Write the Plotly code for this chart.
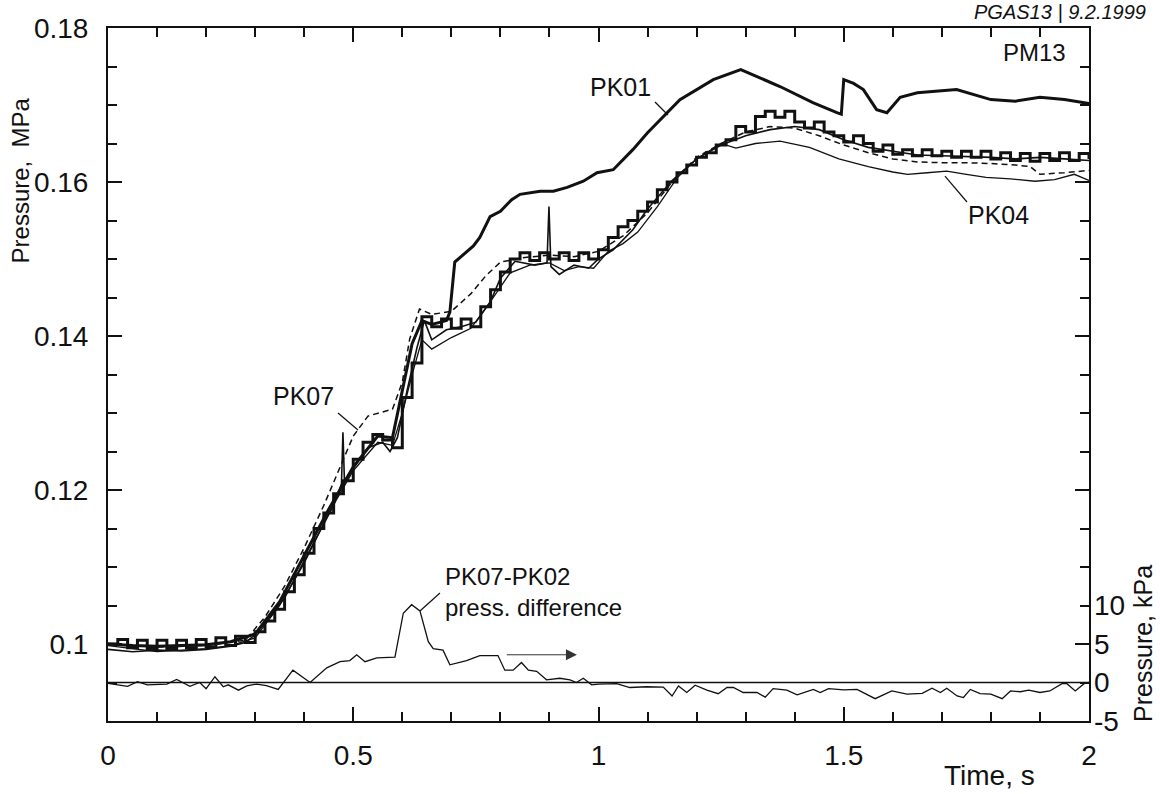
import numpy as np
import plotly.graph_objects as go

# ---------------- data ----------------
# PK01 (thick solid)
t_pk01 = [0.0, 0.05, 0.1, 0.15, 0.2, 0.25, 0.3, 0.35, 0.4, 0.45, 0.5, 0.55, 0.58, 0.6, 0.62, 0.64,
          0.66, 0.69, 0.697, 0.707, 0.724, 0.745, 0.758, 0.779, 0.8, 0.823, 0.84, 0.881, 0.908, 0.936,
          0.969, 0.997, 1.03, 1.05, 1.07, 1.10, 1.166, 1.234, 1.29, 1.37, 1.437, 1.486, 1.495, 1.50,
          1.52, 1.54, 1.567, 1.588, 1.615, 1.65, 1.7, 1.73, 1.8, 1.85, 1.9, 1.95, 2.0]
p_pk01 = [0.1000, 0.0998, 0.0997, 0.0998, 0.0999, 0.1003, 0.1013, 0.1055, 0.1115, 0.1175, 0.1230,
          0.1270, 0.1268, 0.1330, 0.1390, 0.1420, 0.1415, 0.1420, 0.1431, 0.1496, 0.1505, 0.1517,
          0.1528, 0.1555, 0.1562, 0.1577, 0.1584, 0.1588, 0.1588, 0.1593, 0.1601, 0.1612, 0.1616,
          0.1629, 0.1642, 0.1664, 0.1707, 0.1733, 0.1746, 0.1724, 0.1703, 0.1690, 0.1688, 0.1733,
          0.1728, 0.1720, 0.1694, 0.1690, 0.1710, 0.1716, 0.1718, 0.1720, 0.1707, 0.1705, 0.1710,
          0.1707, 0.1702]

# PK02 (heavy, coarsely digitised / stepped), sampled every 0.02 s
t_pk02 = list(np.round(np.arange(0, 2.0001, 0.02), 2))
p_pk02 = [0.1000, 0.1006, 0.0995, 0.1005, 0.0994, 0.1005, 0.0994, 0.1005, 0.0995, 0.1006,
          0.0996, 0.1008, 0.0998, 0.1010, 0.1002, 0.1016, 0.1030, 0.1045, 0.1068, 0.1090,
          0.1118, 0.1150, 0.1170, 0.1195, 0.1212, 0.1240, 0.1262, 0.1272, 0.1265, 0.1255,
          0.1320, 0.1365, 0.1425, 0.1412, 0.1422, 0.1410, 0.1422, 0.1412, 0.1438, 0.1460,
          0.1483, 0.1500, 0.1508, 0.1498, 0.1508, 0.1500, 0.1508, 0.1498, 0.1508, 0.1500,
          0.1512, 0.1528, 0.1542, 0.1550, 0.1562, 0.1574, 0.1590, 0.1600, 0.1612, 0.1622,
          0.1632, 0.1638, 0.1648, 0.1655, 0.1672, 0.1665, 0.1685, 0.1692, 0.1684, 0.1692,
          0.1678, 0.1670, 0.1678, 0.1665, 0.1660, 0.1652, 0.1660, 0.1650, 0.1640, 0.1648,
          0.1636, 0.1642, 0.1634, 0.1642, 0.1634, 0.1640, 0.1632, 0.1640, 0.1632, 0.1640,
          0.1630, 0.1638, 0.1628, 0.1637, 0.1627, 0.1637, 0.1628, 0.1638, 0.1628, 0.1637,
          0.1630]

# PK03 (solid, inside the bundle)
t_pk03 = [0.0, 0.05, 0.1, 0.15, 0.2, 0.25, 0.28, 0.3, 0.33, 0.36, 0.4, 0.43, 0.46, 0.476, 0.479,
          0.482, 0.5, 0.53, 0.56, 0.575, 0.59, 0.61, 0.63, 0.645, 0.66, 0.69, 0.72, 0.75, 0.78, 0.8,
          0.83, 0.87, 0.895, 0.899, 0.903, 0.92, 0.95, 0.98, 1.0, 1.03, 1.07, 1.1, 1.15, 1.2, 1.25,
          1.3, 1.35, 1.4, 1.45, 1.5, 1.55, 1.6, 1.65, 1.7, 1.75, 1.8, 1.85, 1.9, 1.95, 2.0]
p_pk03 = [0.0993, 0.0990, 0.0992, 0.0991, 0.0993, 0.0997, 0.1002, 0.1012, 0.1035, 0.1060, 0.1108,
          0.1145, 0.1180, 0.1208, 0.1275, 0.1212, 0.1228, 0.1255, 0.1262, 0.1250, 0.1268, 0.1330,
          0.1385, 0.1420, 0.1395, 0.1408, 0.1412, 0.1418, 0.1445, 0.1475, 0.1497, 0.1492, 0.1495,
          0.1568, 0.1490, 0.1480, 0.1492, 0.1488, 0.1500, 0.1512, 0.1538, 0.1565, 0.1602, 0.1630,
          0.1648, 0.1660, 0.1668, 0.1672, 0.1668, 0.1655, 0.1645, 0.1640, 0.1635, 0.1634, 0.1633,
          0.1632, 0.1630, 0.1632, 0.1630, 0.1628]

# PK04 (thin solid, lowest at the end)
t_pk04 = [0.0, 0.05, 0.1, 0.15, 0.2, 0.25, 0.3, 0.35, 0.4, 0.45, 0.5, 0.55, 0.58, 0.6, 0.62, 0.64,
          0.66, 0.7, 0.74, 0.78, 0.82, 0.86, 0.9, 0.93, 0.96, 0.99, 1.02, 1.05, 1.08, 1.12, 1.16,
          1.2, 1.25, 1.28, 1.32, 1.37, 1.43, 1.49, 1.55, 1.6, 1.63, 1.67, 1.71, 1.75, 1.79, 1.84,
          1.89, 1.93, 1.97, 2.0]
p_pk04 = [0.0998, 0.0994, 0.0990, 0.0992, 0.0994, 0.0998, 0.1008, 0.1050, 0.1105, 0.1170, 0.1225,
          0.1262, 0.1258, 0.1300, 0.1350, 0.1395, 0.1383, 0.1398, 0.1410, 0.1445, 0.1482, 0.1492,
          0.1495, 0.1485, 0.1490, 0.1488, 0.1510, 0.1520, 0.1535, 0.1568, 0.1605, 0.1630, 0.1650,
          0.1644, 0.1650, 0.1653, 0.1645, 0.1630, 0.1620, 0.1613, 0.1610, 0.1612, 0.1614, 0.1610,
          0.1606, 0.1604, 0.1601, 0.1603, 0.1610, 0.1602]

# PK07 (dashed)
t_pk07 = [0.0, 0.1, 0.2, 0.28, 0.32, 0.36, 0.4, 0.44, 0.47, 0.5, 0.53, 0.56, 0.58, 0.6, 0.615,
          0.635, 0.66, 0.7, 0.74, 0.77, 0.8, 0.85, 0.9, 0.95, 1.0, 1.05, 1.1, 1.15, 1.2, 1.25, 1.3,
          1.35, 1.4, 1.45, 1.5, 1.55, 1.6, 1.65, 1.7, 1.75, 1.8, 1.85, 1.88, 1.9, 1.95, 2.0]
p_pk07 = [0.1000, 0.0996, 0.0998, 0.1005, 0.1035, 0.1075, 0.1125, 0.1180, 0.1225, 0.1270, 0.1296,
          0.1302, 0.1305, 0.1340, 0.1396, 0.1435, 0.1428, 0.1432, 0.1455, 0.1478, 0.1496, 0.1502,
          0.1505, 0.1503, 0.1510, 0.1530, 0.1560, 0.1600, 0.1632, 0.1650, 0.1665, 0.1672, 0.1670,
          0.1660, 0.1648, 0.1638, 0.1630, 0.1626, 0.1625, 0.1625, 0.1624, 0.1622, 0.1620, 0.1610,
          0.1612, 0.1615]

# PK07-PK02 pressure difference, kPa (right axis)
t_diff = [0.0, 0.04, 0.06, 0.08, 0.12, 0.14, 0.167, 0.187, 0.2, 0.218, 0.235, 0.245, 0.266, 0.283,
          0.303, 0.323, 0.347, 0.361, 0.377, 0.412, 0.446, 0.473, 0.493, 0.507, 0.524, 0.548,
          0.585, 0.602, 0.619, 0.636, 0.653, 0.663, 0.683, 0.697, 0.731, 0.758, 0.795, 0.809,
          0.826, 0.843, 0.857, 0.874, 0.894, 0.921, 0.942, 0.955, 0.969, 0.986, 1.0, 1.037,
          1.064, 1.098, 1.132, 1.15, 1.163, 1.18, 1.197, 1.221, 1.244, 1.262, 1.275, 1.295,
          1.323, 1.34, 1.356, 1.384, 1.405, 1.438, 1.452, 1.469, 1.5, 1.527, 1.547, 1.564,
          1.598, 1.629, 1.66, 1.68, 1.697, 1.71, 1.731, 1.744, 1.758, 1.778, 1.8, 1.823, 1.84,
          1.86, 1.877, 1.9, 1.92, 1.945, 1.955, 1.972, 1.99, 2.0]
dp_diff = [-0.1, -0.5, 0.1, -0.3, -0.2, 0.4, -0.5, 0.0, -0.8, 0.75, -0.55, -0.3, -1.0, -0.45,
           -0.2, -0.4, -0.9, 0.2, 1.6, 0.0, 1.9, 2.7, 2.85, 3.6, 2.7, 3.2,
           3.3, 9.0, 10.1, 9.3, 5.3, 4.4, 4.2, 2.3, 2.85, 3.5, 3.5, 1.6,
           1.6, 2.6, 1.6, 1.45, 0.35, 0.55, 0.35, 0.0, 0.55, -0.3, -0.2, -0.15,
           -0.65, -0.55, -0.6, -1.75, -0.45, -1.3, -0.35, -1.0, -1.45, -0.65, -0.65, -1.3,
           -1.3, -1.9, -0.8, -1.0, -1.6, -0.9, -1.3, -0.8, -0.95, -0.9, -1.5, -2.1,
           -1.1, -1.5, -1.4, -0.75, -1.3, -0.75, -1.75, -1.95, -0.9, -1.45, -1.5, -2.1, -1.1,
           -1.2, -1.0, -1.3, -1.1, -0.15, -0.15, -1.1, -0.15, 0.0]

assert len(t_pk01) == len(p_pk01)
assert len(t_pk02) == len(p_pk02)
assert len(t_pk03) == len(p_pk03)
assert len(t_pk04) == len(p_pk04)
assert len(t_pk07) == len(p_pk07)
assert len(t_diff) == len(dp_diff)

x_ticks = [0, 0.5, 1, 1.5, 2]
x_tick_text = ["0", "0.5", "1", "1.5", "2"]
y_ticks = [0.1, 0.12, 0.14, 0.16, 0.18]
y_tick_text = ["0.1", "0.12", "0.14", "0.16", "0.18"]
y2_ticks = [-5, 0, 5, 10]
y2_tick_text = ["-5", "0", "5", "10"]

FONT = "Liberation Sans, Arial, sans-serif"
BLACK = "#111111"

# ---------------- figure ----------------
fig = go.Figure()
fig.add_trace(go.Scatter(x=t_pk04, y=p_pk04, mode="lines", line=dict(color=BLACK, width=1.3)))
fig.add_trace(go.Scatter(x=t_pk07, y=p_pk07, mode="lines",
                         line=dict(color=BLACK, width=1.5, dash="6px,4px")))
fig.add_trace(go.Scatter(x=t_pk03, y=p_pk03, mode="lines", line=dict(color=BLACK, width=1.6)))
fig.add_trace(go.Scatter(x=t_pk02, y=p_pk02, mode="lines",
                         line=dict(color=BLACK, width=3, shape="hv")))
fig.add_trace(go.Scatter(x=t_pk01, y=p_pk01, mode="lines", line=dict(color=BLACK, width=3)))
fig.add_trace(go.Scatter(x=t_diff, y=dp_diff, mode="lines", yaxis="y2",
                         line=dict(color=BLACK, width=1.3)))

axis_common = dict(showgrid=False, zeroline=False, showline=True, linecolor=BLACK, linewidth=2,
                   ticks="inside", tickcolor=BLACK, tickwidth=1.5, mirror="ticks",
                   tickfont=dict(family=FONT, size=28, color=BLACK))

fig.update_layout(
    width=1160, height=794,
    margin=dict(l=108, r=71, t=28, b=73),
    paper_bgcolor="white", plot_bgcolor="white",
    showlegend=False,
    font=dict(family=FONT, color=BLACK),
    xaxis=dict(range=[0, 2], tickvals=x_ticks, ticktext=x_tick_text, ticklen=14,
               ticklabelstandoff=8,
               minor=dict(dtick=0.1, tick0=0, ticks="inside", ticklen=9, tickcolor=BLACK),
               **axis_common),
    yaxis=dict(range=[0.09, 0.18], tickvals=y_ticks, ticktext=y_tick_text, ticklen=14,
               ticklabelstandoff=12,
               minor=dict(dtick=0.005, tick0=0.09, ticks="inside", ticklen=9, tickcolor=BLACK),
               **axis_common),
    yaxis2=dict(range=[-5, 85], overlaying="y", side="right", tickvals=y2_ticks,
                ticktext=y2_tick_text, ticks="", showgrid=False, zeroline=False,
                showline=False, ticklabelstandoff=4,
                tickfont=dict(family=FONT, size=28, color=BLACK)),
)

# zero line of the pressure-difference axis
fig.add_shape(type="line", xref="x", yref="y2", x0=0, x1=2, y0=0, y1=0,
              line=dict(color=BLACK, width=1.6))

# leader lines for the labels (paper coordinates)
leaders = [
    (0.5576, 0.8932, 0.5708, 0.8745),   # PK01
    (0.8532, 0.7864, 0.8756, 0.7489),   # PK04
    (0.2345, 0.4444, 0.2548, 0.4199),   # PK07
    (0.3180, 0.1587, 0.3384, 0.1847),   # PK07-PK02
]
for x0, y0, x1, y1 in leaders:
    fig.add_shape(type="line", xref="paper", yref="paper", x0=x0, y0=y0, x1=x1, y1=y1,
                  line=dict(color=BLACK, width=1.2))

def label(text, x, y, size, xanchor="center", yanchor="middle", angle=0, align="center"):
    fig.add_annotation(text=text, x=x, y=y, xref="paper", yref="paper", showarrow=False,
                       xanchor=xanchor, yanchor=yanchor, textangle=angle, align=align,
                       font=dict(family=FONT, size=size, color=BLACK))

label("PK01", 0.522, 0.9149, 25)
label("PK04", 0.908, 0.730, 25)
label("PK07", 0.199, 0.469, 25)
label("PK07-PK02<br>press. difference", 0.3415, 0.186, 24, xanchor="left", align="left")
label("PM13", 0.9786, 0.965, 24, xanchor="right")
label("<i>PGAS13 | 9.2.1999</i>", 1.060, 1.023, 20, xanchor="right")
label("Pressure,  MPa", -0.0897, 0.78, 24, angle=-90)
label("Time, s", 0.899, -0.0790, 28)
label("Pressure, kPa", 1.055, 0.1126, 25, angle=-90)

# direction arrow under the difference curve
fig.add_annotation(x=0.956, y=3.6, xref="x", yref="y2", ax=0.81, ay=3.6, axref="x", ayref="y2",
                   text="", showarrow=True, arrowhead=2, arrowsize=2.2, arrowwidth=1,
                   arrowcolor="#333333")

fig.write_html("out.html")
